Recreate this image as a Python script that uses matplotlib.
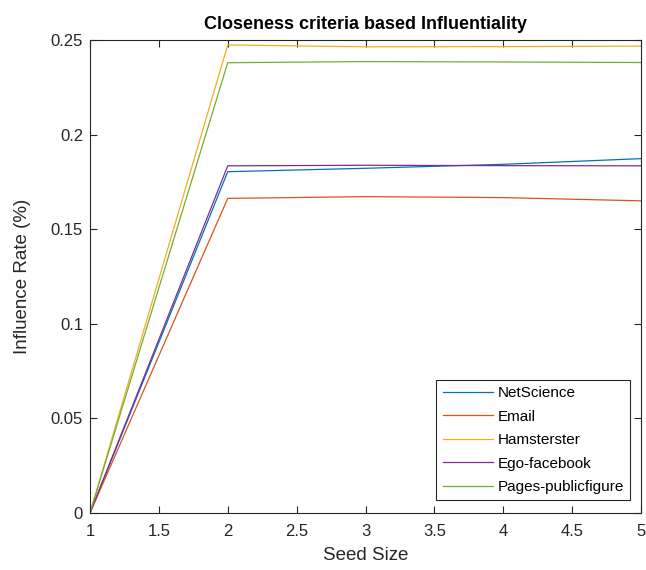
import matplotlib.pyplot as plt

plt.rcParams['font.family'] = ['Liberation Sans', 'DejaVu Sans']

seed = [1, 2, 3, 4, 5]
netscience = [0, 0.1804, 0.1822, 0.1843, 0.1873]
email = [0, 0.1663, 0.1672, 0.1667, 0.1650]
hamsterster = [0, 0.2474, 0.2464, 0.2465, 0.2468]
egofb = [0, 0.1835, 0.1838, 0.1836, 0.1835]
pages = [0, 0.2380, 0.2386, 0.2384, 0.2381]

names = ['NetScience', 'Email', 'Hamsterster', 'Ego-facebook', 'Pages-publicfigure']
colors = ['#0072BD', '#D95319', '#EDB120', '#7E2F8E', '#77AC30']

fig = plt.figure(figsize=(6.46, 5.7), dpi=100)
ax = fig.add_axes([0.1393, 0.1, 0.853, 0.8298])

for y, n, c in zip([netscience, email, hamsterster, egofb, pages], names, colors):
    ax.plot(seed, y, color=c, lw=0.9, label=n)

ax.set_xlim(1, 5)
ax.set_ylim(0, 0.25)
ax.set_xticks([1, 1.5, 2, 2.5, 3, 3.5, 4, 4.5, 5])
ax.set_xticklabels(['1', '1.5', '2', '2.5', '3', '3.5', '4', '4.5', '5'])
ax.set_yticks([0, 0.05, 0.1, 0.15, 0.2, 0.25])
ax.set_yticklabels(['0', '0.05', '0.1', '0.15', '0.2', '0.25'])
ax.tick_params(direction='in', top=True, right=True, labelsize=12, color='#262626', labelcolor='#262626', length=5)
ax.tick_params(axis='x', pad=8)
ax.tick_params(axis='y', pad=5)
for s in ax.spines.values():
    s.set_color('#262626')
    s.set_linewidth(0.8)

ax.set_xlabel('Seed Size', fontsize=13.5, color='#262626', labelpad=5.5)
ax.set_ylabel('Influence Rate (%)', fontsize=13.5, color='#262626', labelpad=14)
ax.set_title('Closeness criteria based Influentiality', fontsize=13, fontweight='bold', pad=8)

leg = ax.legend(loc='lower right', bbox_to_anchor=(0.98, 0.027), borderaxespad=0, fancybox=False,
                framealpha=1, edgecolor='#262626', fontsize=11, handlelength=3.3, handletextpad=0.3,
                labelspacing=0.62)
leg.get_frame().set_linewidth(0.8)

fig.savefig('out.png', dpi=100)
